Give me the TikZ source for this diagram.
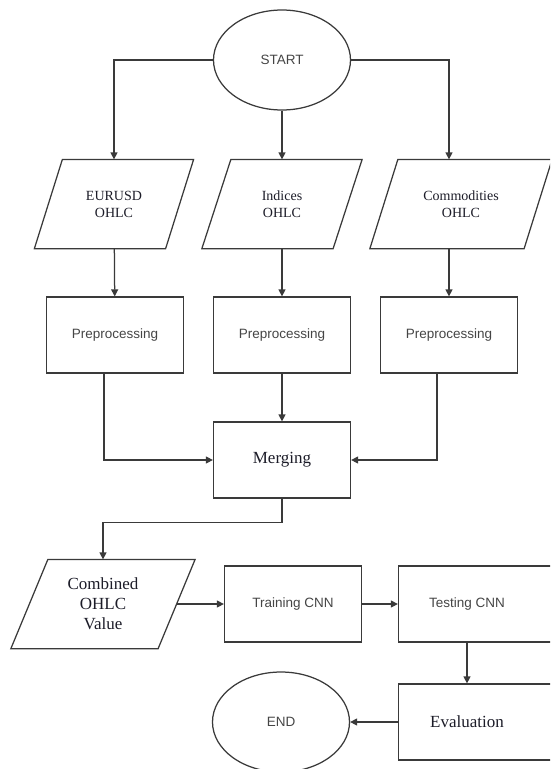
\documentclass[tikz,border=0pt]{standalone}
\usepackage{fontspec}
\setmainfont{Liberation Serif}
\setsansfont{Liberation Sans}
\usepackage{tikz}
\usetikzlibrary{positioning, shapes.geometric, arrows.meta}

\definecolor{linegray}{HTML}{3A3A3A}
\definecolor{sansgray}{HTML}{454545}
\definecolor{serifink}{HTML}{1C1C28}

\begin{document}
\begin{tikzpicture}[x=1pt, y=-1pt, on grid, line width=1.25pt,
    every node/.style = {draw=linegray, align=center, inner sep=0pt},
    term/.style = {ellipse, minimum width=137pt, minimum height=100pt, text=sansgray,
        font=\sffamily\fontsize{13.5}{16}\selectfont},
    proc/.style = {rectangle, minimum width=137pt, minimum height=76pt, text=sansgray,
        font=\sffamily\fontsize{13.5}{16}\selectfont},
    procb/.style = {proc, text=serifink, font=\rmfamily\fontsize{17}{20}\selectfont},
    wide/.style = {minimum width=160pt},
    data/.style = {rectangle, draw=none, minimum width=130pt, minimum height=88pt,
        text=serifink, font=\rmfamily\fontsize{14}{17}\selectfont},
    arr/.style = {draw=linegray, -{Triangle[length=7pt, width=7pt]}}]
    \clip (0,0) rectangle (550,769);
    \useasboundingbox (0,0) rectangle (550,769);

    % top row
    \node[term] (start) at (282,60) {START};
    \node[data] (ind) [below=144pt of start] {Indices\\OHLC};
    \node[data] (eur) [left=168pt of ind] {EURUSD\\OHLC};
    \node[data, minimum width=153pt] (com) [right=179pt of ind] {Commodities\\OHLC};

    % preprocessing
    \node[proc] (pre2) [below=131pt of ind] {Preprocessing};
    \node[proc] (pre1) [left=167pt of pre2] {Preprocessing};
    \node[proc] (pre3) [right=167pt of pre2] {Preprocessing};
    \node[procb] (merge) [below=125pt of pre2] {Merging};

    % bottom part (last column runs past the right margin)
    \node[data, minimum width=146pt, font=\rmfamily\fontsize{17}{20}\selectfont]
        (comb) [below left=144pt and 179pt of merge] {Combined\\OHLC\\Value};
    \node[proc] (train) [right=190pt of comb] {Training CNN};
    \node[proc, wide] (test) [right=185.5pt of train] {Testing CNN\hspace*{23pt}};
    \node[procb, wide] (eval) [below=118pt of test] {Evaluation\hspace*{23pt}};
    \node[term] (endn) [left=197.5pt of eval] {END};

    % slanted outlines of the data nodes
    \foreach \n/\s in {eur/14, ind/14.5, com/14, comb/18.5}
        \draw[linegray] ([xshift=-\s pt]\n.south west) -- ([xshift=\s pt]\n.north west)
            -- ([xshift=\s pt]\n.north east) -- ([xshift=-\s pt]\n.south east) -- cycle;

    \draw[arr] (start.west) -| (eur.north);
    \draw[arr] (start) -- (ind);
    \draw[arr] (start.east) -| (com.north -| pre3.north);
    \draw[arr] (eur) -- (pre1);
    \draw[arr] (ind) -- (pre2);
    \draw[arr] (com.south -| pre3.north) -- (pre3);
    \draw[arr] ([xshift=-11pt]pre1.south) |- (merge.west);
    \draw[arr] (pre2) -- (merge);
    \draw[arr] ([xshift=-12pt]pre3.south) |- (merge.east);
    \draw[arr] (merge.south) -- ++(0,24) -| (comb.north);
    \draw[arr] (comb) -- (train);
    \draw[arr] (train) -- (test);
    \draw[arr] ([xshift=-11.5pt]test.south) -- ([xshift=-11.5pt]eval.north);
    \draw[arr] (eval) -- (endn);
\end{tikzpicture}
\end{document}
